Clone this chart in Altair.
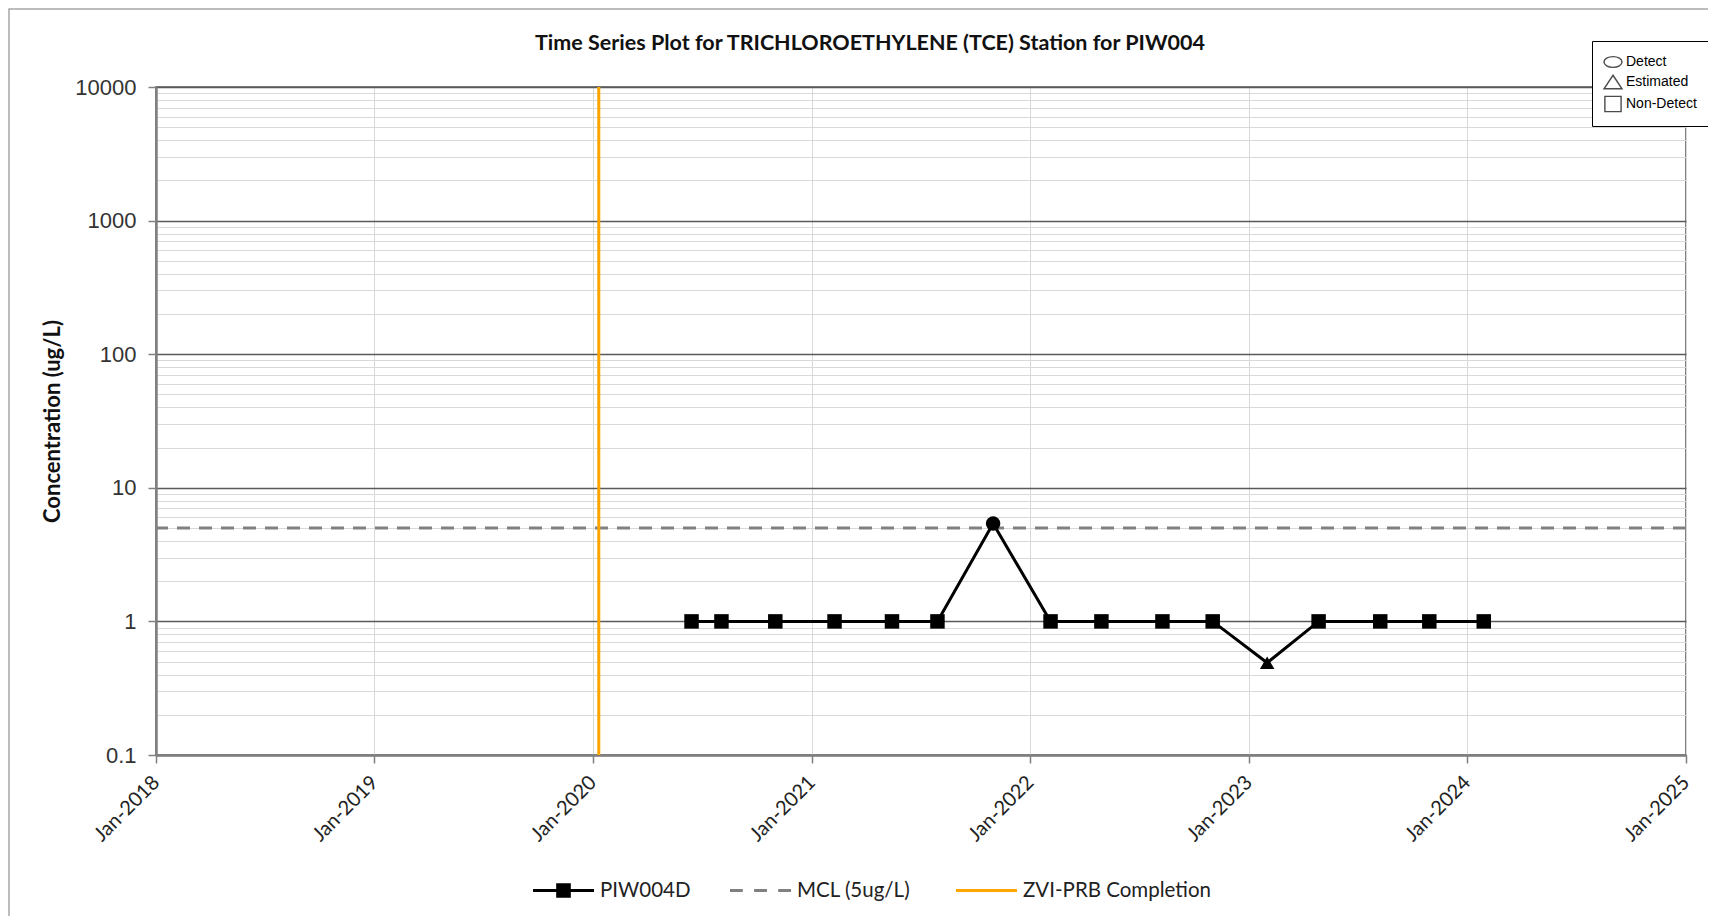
import altair as alt
import pandas as pd

# ---------------- data ----------------
sample_dates = [
    "2020-06-14", "2020-08-03", "2020-11-01", "2021-02-08", "2021-05-15",
    "2021-07-30", "2021-10-31", "2022-02-04", "2022-04-30", "2022-08-10",
    "2022-11-02", "2023-02-01", "2023-04-28", "2023-08-09", "2023-10-30",
    "2024-01-29",
]
concentrations = [1, 1, 1, 1, 1, 1, 5.4, 1, 1, 1, 1, 0.49, 1, 1, 1, 1]
detect_flags = [
    "Non-Detect", "Non-Detect", "Non-Detect", "Non-Detect", "Non-Detect",
    "Non-Detect", "Detect", "Non-Detect", "Non-Detect", "Non-Detect",
    "Non-Detect", "Estimated", "Non-Detect", "Non-Detect", "Non-Detect",
    "Non-Detect",
]
series_name = "PIW004D"
mcl_label = "MCL (5ug/L)"
mcl_value = 5
zvi_label = "ZVI-PRB Completion"
zvi_date = "2020-01-11"
flag_names = ["Detect", "Estimated", "Non-Detect"]
x_tick_years = [2018, 2019, 2020, 2021, 2022, 2023, 2024, 2025]
y_decades = [0.1, 1, 10, 100, 1000, 10000]
minor_multipliers = [2, 3, 4, 5, 6, 7, 8, 9]
title_text = "Time Series Plot for TRICHLOROETHYLENE (TCE) Station for PIW004"
y_title = "Concentration (ug/L)"

# ---------------- tables ----------------
df = pd.DataFrame({
    "date": [d + "T00:00:00" for d in sample_dates],
    "value": concentrations,
    "flag": detect_flags,
})
mcl_df = pd.DataFrame({"value": [mcl_value]})
zvi_df = pd.DataFrame({"date": [zvi_date + "T00:00:00"]})
flag_df = pd.DataFrame({"flag": flag_names})

y_ticks = sorted(set(y_decades + [round(d * m, 6) for d in y_decades[:-1] for m in minor_multipliers]))

W, H = 1530, 668
is_decade = "abs(log(datum.value)/LN10 - round(log(datum.value)/LN10)) < 0.000001"

x_scale = alt.Scale(domain=[alt.DateTime(year=x_tick_years[0], month=1, date=1),
                            alt.DateTime(year=x_tick_years[-1], month=1, date=1)])
y_scale = alt.Scale(type="log", domain=[y_decades[0], y_decades[-1]], nice=False)

x_axis = alt.Axis(
    values=[alt.DateTime(year=y, month=1, date=1) for y in x_tick_years],
    format="%b-%Y", labelAngle=-45, labelAlign="right", labelBaseline="middle",
    labelFont="Lato", labelFontSize=20, labelColor="#222222", labelPadding=16,
    labelOverlap=False, labelFlush=False,
    tickSize=8, tickColor="#808080", tickWidth=1.5,
    domainColor="#808080", domainWidth=2.5,
    grid=True, gridColor="#d9d9d9", gridWidth=1, title=None,
)
y_axis = alt.Axis(
    values=y_ticks,
    labelExpr=f"({is_decade}) ? format(datum.value, '~g') : ''",
    labelFont="Liberation Sans", labelFontSize=22, labelColor="#333333",
    labelPadding=12, labelOverlap=False, labelFlush=False,
    tickSize=8, tickColor="#808080", tickWidth=1.5,
    tickOpacity={"condition": {"test": is_decade, "value": 1}, "value": 0},
    domainColor="#808080", domainWidth=2.5,
    grid=True,
    gridColor={"condition": {"test": is_decade, "value": "#5a5a5a"}, "value": "#d9d9d9"},
    gridWidth={"condition": {"test": is_decade, "value": 1.6}, "value": 1},
    title=y_title, titleFont="Lato", titleFontWeight="bold", titleFontSize=22,
    titleColor="#111111", titleX=-104, titleY=H / 2, titleAngle=270,
    titleAlign="center", titleBaseline="middle",
)

# frame around whole picture (left/top edges visible)
frame = alt.Chart(alt.Data(values=[{}])).mark_rect(
    fillOpacity=0, stroke="#a6a6a6", strokeWidth=1.5
).encode(x=alt.value(-147), x2=alt.value(4000), y=alt.value(-78), y2=alt.value(4000))

mcl = alt.Chart(mcl_df).mark_rule(color="#808080", strokeWidth=3, strokeDash=[13, 9]).encode(
    y=alt.Y("value:Q", scale=y_scale, axis=y_axis)
)
zvi = alt.Chart(zvi_df).mark_rule(color="#FFA500", strokeWidth=3).encode(
    x=alt.X("date:T", scale=x_scale, axis=x_axis)
)
line = alt.Chart(df).mark_line(color="black", strokeWidth=3).encode(
    x=alt.X("date:T", scale=x_scale, axis=x_axis),
    y=alt.Y("value:Q", scale=y_scale, axis=y_axis),
)
points = alt.Chart(df).mark_point(filled=True, color="black", opacity=1, size=210).encode(
    x=alt.X("date:T", scale=x_scale, axis=x_axis),
    y=alt.Y("value:Q", scale=y_scale, axis=y_axis),
    shape=alt.Shape("flag:N", scale=alt.Scale(domain=flag_names,
                    range=["circle", "triangle-up", "square"]), legend=None),
)

flag_legend = alt.Legend(
    orient="none", legendX=1436, legendY=-46, title=None, direction="vertical",
    labelFont="Liberation Sans", labelFontSize=14, labelColor="black", labelOffset=3,
    symbolSize=324, symbolStrokeColor="black", symbolStrokeWidth=1.4, symbolFillColor="white",
    rowPadding=1, padding=11, strokeColor="black", fillColor="white",
)
flag_key = alt.Chart(flag_df).transform_filter("false").mark_point(
    filled=False, color="black", strokeWidth=1.4
).encode(
    shape=alt.Shape("flag:N", scale=alt.Scale(domain=flag_names, range=[
        "M-1,0A1,0.6,0,1,1,1,0A1,0.6,0,1,1,-1,0Z",
        "M0,-0.75L1,0.75L-1,0.75Z",
        "M-0.9,-0.85H0.9V0.85H-0.9Z",
    ]), legend=flag_legend)
)


def series_key(name, color, path, lx):
    lg = alt.Legend(
        orient="none", legendX=lx, legendY=773, direction="horizontal", title=None,
        labelFont="Lato", labelFontSize=20.5, labelColor="#222222", labelOffset=6,
        labelLimit=0, symbolType=path, symbolSize=3721, symbolStrokeWidth=0,
        symbolOpacity=1, padding=0,
    )
    return alt.Chart(pd.DataFrame({"series": [name]})).transform_filter("false").mark_point(
        filled=True, opacity=1
    ).encode(
        color=alt.Color("series:N", scale=alt.Scale(domain=[name], range=[color]), legend=lg)
    )


key_piw = series_key(series_name, "black",
                     "M-1,-0.05H1V0.05H-1Z M-0.24,-0.24H0.24V0.24H-0.24Z", 377)
key_mcl = series_key(mcl_label, "#808080",
                     "M-1,-0.05H-0.58V0.05H-1Z M-0.21,-0.05H0.21V0.05H-0.21Z M0.58,-0.05H1V0.05H0.58Z",
                     574)
key_zvi = series_key(zvi_label, "#FFA500", "M-1,-0.05H1V0.05H-1Z", 800)

title = alt.Chart(alt.Data(values=[{}])).mark_text(
    font="Lato", fontWeight="bold", fontSize=21.5, align="center", baseline="middle", color="#111111"
).encode(x=alt.value(714), y=alt.value(-43), text=alt.value(title_text))

chart = alt.layer(frame, mcl, zvi, line, points, flag_key, key_piw, key_mcl, key_zvi, title).resolve_scale(
    shape="independent", color="independent"
).properties(
    width=W, height=H,
    autosize=alt.AutoSizeParams(type="none"),
    padding={"left": 148, "top": 79, "right": 22, "bottom": 161},
).configure_view(stroke="#808080", strokeWidth=2)

chart.save("out.html", embed_options={"renderer": "svg", "actions": False})
